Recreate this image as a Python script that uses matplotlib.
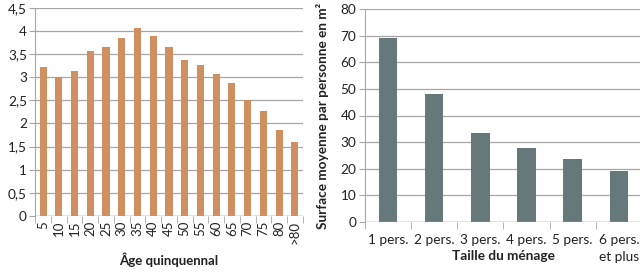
import matplotlib
matplotlib.use("Agg")
import matplotlib.pyplot as plt
import numpy as np

plt.rcParams["font.family"] = ["Lato", "DejaVu Sans"]

ages = ["5", "10", "15", "20", "25", "30", "35", "40", "45", "50",
        "55", "60", "65", "70", "75", "80", ">80"]
persons = [3.22, 3.00, 3.13, 3.57, 3.65, 3.85, 4.07, 3.90, 3.65, 3.38,
           3.27, 3.06, 2.87, 2.51, 2.27, 1.85, 1.60]

sizes = ["1 pers.", "2 pers.", "3 pers.", "4 pers.", "5 pers.", "6 pers.\net plus"]
surface = [69.3, 48.2, 33.6, 27.8, 23.7, 19.2]

GRID = "#a6a6a6"
TXT = "#222222"


def excel_style(ax, n, ymax, step):
    ax.set_xlim(-0.5, n - 0.5)
    ax.set_ylim(0, ymax)
    ax.set_yticks(np.arange(0, ymax + step / 2, step))
    ax.yaxis.grid(True, color=GRID, linewidth=0.9)
    ax.set_axisbelow(True)
    for s in ["top", "right", "bottom"]:
        ax.spines[s].set_visible(False)
    ax.spines["left"].set_color(GRID)
    ax.axhline(0, color=GRID, linewidth=1.0, zorder=3)
    ax.tick_params(axis="y", length=4, color=GRID, labelsize=9.8, labelcolor=TXT, pad=2)
    ax.tick_params(axis="x", which="major", length=0, labelsize=9.5, labelcolor=TXT)
    ax.set_xticks(np.arange(-0.5, n, 1.0), minor=True)
    ax.tick_params(axis="x", which="minor", length=5, color=GRID)


fig = plt.figure(figsize=(6.4, 2.75), dpi=100)

# left: household size by age
ax1 = fig.add_axes([0.055, 0.2145, 0.418, 0.757])
x1 = np.arange(len(ages))
ax1.bar(x1, persons, width=0.45, color="#d08f60")
excel_style(ax1, len(ages), 4.5, 0.5)
ax1.set_xticks(x1)
ax1.set_xticklabels(ages, rotation=90)
ax1.set_yticklabels([f"{v:g}".replace(".", ",") for v in np.arange(0, 4.6, 0.5)])
ax1.set_xlabel("Âge quinquennal", fontsize=9.5, fontweight="bold", color=TXT, labelpad=6)

# right: surface per person by household size
ax2 = fig.add_axes([0.570, 0.193, 0.433, 0.774])
x2 = np.arange(len(sizes))
ax2.bar(x2, surface, width=0.4, color="#66787a")
excel_style(ax2, len(sizes), 80, 10)
ax2.set_xticks(x2)
ax2.set_xticklabels(sizes, linespacing=1.5, va="top")
ax2.tick_params(axis="x", which="major", pad=9, labelsize=9.8)
ax2.set_ylabel("Surface moyenne par personne en m²", fontsize=9.8,
               fontweight="bold", color=TXT, labelpad=8)
ax2.set_xlabel("Taille du ménage", fontsize=9.8, fontweight="bold", color=TXT, labelpad=-10)

fig.savefig("out.png", dpi=100)
